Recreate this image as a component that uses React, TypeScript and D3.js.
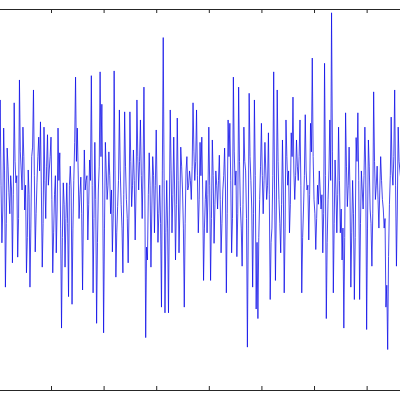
import * as d3 from "d3";
import { useEffect, useRef } from "react";

// noise trace (one sample every ~0.88px)
const signal: number[] = [
  1.2, 0.4, 2.09, 0.3, -0.91, -0.2, 1.5, 0.6, -1.84, -0.5, 1.08, 0.7, 0.14, -0.3, 0.5, 0.2, -1.33, 0.1, 2.03,
  0.8, 0.35, 0.5, -1.21, -0.4, 2.51, 1.0, 0.62, 0.2, 1.52, 0.9, -0.22, 0.3, -1.54, -0.8, 0.62, 0.1, -1.84, -0.6, 0.9,
  1.1, 2.3, 0.5, -1.1, -0.3, 0.35, 0.9, 1.31, 0.6, 1.63, 0.2, -1.42, -0.5, 1.52, 0.4, -0.4, 0.7, 1.36, 0.3, 0.62,
  0.9, 1.31, 0.0, -1.54, -0.7, 0.1, 0.5, -1.12, -0.2, 1.5, 0.4, 0.98, -0.6, -2.7, -0.8, 0.35, -0.1, -1.42, -0.4, 0.35,
  -0.5, -2.04, 0.3, 0.7, 0.2, -2.2, -0.6, 0.4, 1.2, 2.57, 0.8, 1.5, 0.6, -0.4, 0.1, 0.47, -0.3, -1.9, -0.2, 1.04,
  0.2, 0.4, 0.5, -0.85, -0.1, 0.83, 0.4, 2.6, 0.3, -1.96, -0.4, 1.2, 0.0, -2.6, -0.9, 0.2, 0.7, 2.68, 0.9, 2.0,
  0.2, -2.8, -0.6, 1.2, 0.6, 0.0, 0.3, 1.0, 0.5, -0.3, 0.2, -1.1, -0.3, 2.7, 0.6, -1.63, -0.7, -0.15, 0.4, 1.88,
  0.6, -0.1, -0.6, -1.54, 0.1, 1.84, 0.7, 0.0, -0.4, -1.33, -0.2, 1.84, 0.8, -0.15, 0.3, 1.04, 0.4, -0.85, 0.2, 2.09,
  0.9, 0.2, 0.8, 1.67, 0.5, -0.4, 0.6, 2.36, 0.2, -2.9, -1.0, -1.27, 0.1, 0.98, 0.3, -1.42, -0.2, 0.9, 0.5, -0.7,
  0.3, 1.46, 0.2, -0.9, -0.3, 0.3, -0.5, -2.26, 0.6, 3.4, 0.4, -2.38, -0.7, 0.4, -0.6, -2.38, -0.2, 1.88, 0.6, -0.7,
  0.1, 1.31, 0.2, -1.27, -0.1, 1.71, 0.4, -1.12, -0.2, 1.1, 0.7, 0.2, -0.6, -2.26, -0.5, 0.6, 0.9, 0.2, 0.3, 0.6,
  0.4, 0.0, 0.7, 2.03, 1.0, 0.4, 0.8, 1.88, 0.5, -0.7, 0.0, 1.2, 0.5, 1.31, 0.2, -1.7, -0.6, 0.0, 0.4, -0.7,
  0.1, 1.52, 0.3, -1.7, -0.4, 1.25, 0.5, -0.92, -0.1, 0.6, 0.3, -0.2, 0.4, 0.93, 0.0, -1.12, -0.5, 0.2, 0.5, 1.08,
  0.2, -1.96, -0.3, 1.67, 0.9, 1.6, 0.4, -1.12, -0.4, 2.57, 1.0, 0.3, 0.6, -1.2, -0.3, 2.36, 0.8, -0.15, -0.6, -1.4,
  -0.1, 1.52, 0.8, 0.6, -0.4, -3.1, -0.6, 2.23, 0.9, 0.4, -0.2, -1.84, -0.3, 2.09, 0.5, -2.3, -0.9, -2.5, -0.8, 0.0,
  0.7, 1.6, 0.5, -0.3, 0.4, 1.2, 0.6, 0.0, 0.3, 1.4, 0.1, -2.1, -0.9, -0.6, 0.5, 2.68, 0.2, -1.7, -0.2, 2.3,
  0.8, 0.0, -0.5, -1.12, -0.1, 1.25, 0.2, -1.96, -0.6, 1.67, 0.9, 0.3, 0.6, -0.7, -0.1, 1.4, 0.9, 2.15, 0.6, 0.0,
  0.5, 1.25, 0.7, 0.4, 0.9, 1.67, 0.3, -1.96, -0.8, -0.2, 0.5, 1.78, 0.6, 0.2, 0.3, -0.85, 0.1, 1.6, 1.0, 2.97,
  0.9, 0.0, -0.3, -1.05, -0.4, 0.3, -0.1, 0.6, 0.2, -0.2, 0.1, -1.12, -0.3, 2.86, 0.5, -2.5, -0.9, 0.0, 0.6, 1.67,
  0.4, 3.92, 1.0, -1.96, -0.5, 0.83, 0.2, -0.7, 0.1, 1.52, 0.4, -0.7, -0.2, -1.27, -0.6, -2.7, -0.8, 1.82, 0.7, -0.15,
  0.3, 1.1, 0.2, -1.84, -0.7, 0.4, -0.3, -2.1, -0.8, 1.3, 0.8, 1.82, 0.4, -2.1, -0.5, 0.6, 0.2, -0.2, 0.5, 1.52,
  0.6, -2.73, -0.6, 1.25, 0.7, -0.2, -0.5, -1.4, -0.3, 2.26, 0.8, 0.0, 0.3, 0.7, 0.0, -0.6, 0.2, 0.9, 0.4, 0.0,
  -0.2, -0.6, -0.4, -2.26, -1.8, -3.15, -1.2, -0.1, 0.5, 1.73, 0.6, 0.3, 0.9, 2.3, 0.3, -1.4, -0.2, 1.52, 0.8, 0.6,
  0.4, 0.2,
];

const xTicks = [60, 120, 180, 240, 300, 360, 420];
const yLimits = [-4, 4];

const W = 400;
const H = 400;

export default function App() {
  const ref = useRef<SVGSVGElement>(null);

  useEffect(() => {
    document.body.style.margin = "0";
    const svg = d3.select(ref.current);
    svg.selectAll("*").remove();

    // the axes box runs past the left and right edges of the picture
    const x = d3.scaleLinear().domain([0, signal.length - 1]).range([-1.6, 401.7]);
    const y = d3.scaleLinear().domain(yLimits).range([390, 9]);

    const line = d3
      .line<number>()
      .x((_, i) => x(i))
      .y((d) => y(d));

    svg
      .append("path")
      .datum(signal)
      .attr("fill", "none")
      .attr("stroke", "#0a0ae8")
      .attr("stroke-width", 0.75)
      .attr("d", line);

    const bottom = d3
      .axisBottom(x)
      .tickValues(xTicks)
      .tickSize(-4)
      .tickSizeOuter(0)
      .tickFormat(() => "");
    const top = d3
      .axisTop(x)
      .tickValues(xTicks)
      .tickSize(-4)
      .tickSizeOuter(0)
      .tickFormat(() => "");

    svg
      .append("g")
      .attr("transform", "translate(0,390)")
      .style("color", "#262626")
      .call(bottom);
    svg
      .append("g")
      .attr("transform", "translate(0,9)")
      .style("color", "#262626")
      .call(top);
  }, []);

  return (
    <svg
      ref={ref}
      width={W}
      height={H}
      style={{ display: "block", background: "#fff" }}
    />
  );
}
